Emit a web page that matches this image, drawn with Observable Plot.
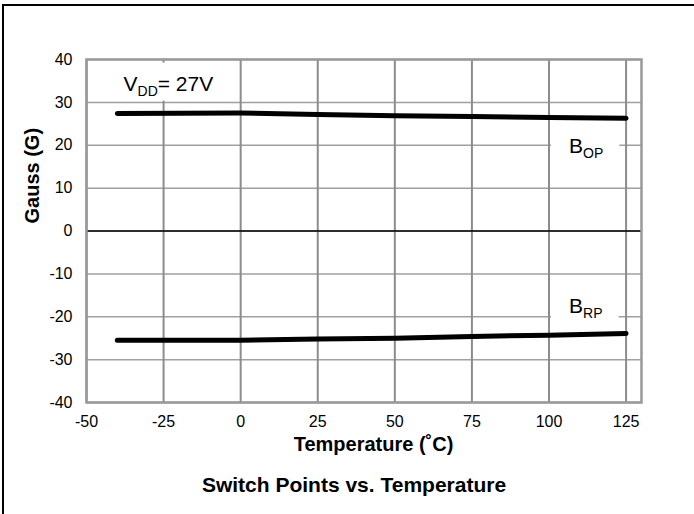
<!DOCTYPE html>
<html><head><meta charset="utf-8">
<script src="https://cdn.jsdelivr.net/npm/d3@7"></script>
<script src="https://cdn.jsdelivr.net/npm/@observablehq/plot@0.6"></script>
<style>
html,body{margin:0;padding:0;background:#fff;}
#wrap{position:relative;width:694px;height:514px;overflow:hidden;}
#chart svg{display:block;}
#border{position:absolute;left:2px;top:4px;width:720px;height:540px;border-top:2px solid #000;border-left:2px solid #000;pointer-events:none;}
</style></head><body>
<div id="wrap"><div id="chart"></div><div id="border"></div></div>
<script>
// Data
const temps = [-40, 0, 25, 50, 75, 100, 125];
const bop = [27.4, 27.5, 27.2, 26.9, 26.7, 26.5, 26.3];
const brp = [-25.5, -25.5, -25.2, -25.0, -24.6, -24.3, -23.9];
const xTicks = [-50, -25, 0, 25, 50, 75, 100, 125];
const yTicks = [-40, -30, -20, -10, 0, 10, 20, 30, 40];
const annText = ["V_DD= 27V", "B_OP", "B_RP"];
const annX = [-38, 106.5, 106.5];
const annY = [34.3, 19.8, -17.5];
const xLabel = "Temperature (˚C)";
const yLabel = "Gauss (G)";
const title = "Switch Points vs. Temperature";

const rows = [
  ...temps.map((t, i) => ({t, v: bop[i], s: "BOP"})),
  ...temps.map((t, i) => ({t, v: brp[i], s: "BRP"}))
];

const font = "'Liberation Sans', Arial, Helvetica, sans-serif";

const plot = Plot.plot({
  width: 694, height: 514,
  marginLeft: 86, marginRight: 53, marginTop: 59, marginBottom: 112,
  style: {fontFamily: font, fontSize: "16px", color: "#000", background: "#fff", overflow: "visible"},
  x: {domain: [-50, 130], ticks: xTicks, tickSize: 0, tickPadding: 13, label: null, tickFormat: d => String(d)},
  y: {domain: [-40, 40], ticks: yTicks, tickSize: 0, tickPadding: 14, label: null, tickFormat: d => String(d)},
  marks: [
    Plot.ruleY(yTicks, {stroke: "#a0a0a0", strokeWidth: 1.5}),
    Plot.ruleX(xTicks, {stroke: "#8c8c8c", strokeWidth: 2}),
    Plot.ruleY([0], {stroke: "#000", strokeWidth: 1.3}),
    Plot.frame({stroke: "#999", strokeWidth: 2.5}),
    Plot.line(rows, {x: "t", y: "v", z: "s", stroke: "#000", strokeWidth: 5, strokeLinecap: "round", strokeLinejoin: "round"}),
    Plot.text(annText, {x: (d, i) => annX[i], y: (d, i) => annY[i], text: d => d, textAnchor: "start", fontSize: 21, fill: "#000"}),
    Plot.text([xLabel], {frameAnchor: "bottom", dy: 48.6, dx: 9.5, fontWeight: "bold", fontSize: 20, fill: "#000"}),
    Plot.text([title], {frameAnchor: "bottom", dy: 89, dx: -10, fontWeight: "bold", fontSize: 21, fill: "#000"}),
    Plot.text([yLabel], {frameAnchor: "left", rotate: -90, dx: -54, dy: -7.5, fontWeight: "bold", fontSize: 20, fill: "#000"})
  ]
});

document.getElementById("chart").appendChild(plot);

// Subscripts and white label boxes for the annotation texts
plot.querySelectorAll("text").forEach(t => {
  const s = t.textContent;
  if (!annText.includes(s)) return;
  const m = s.match(/^(\w)_(\w+)(.*)$/);
  if (!m) return;
  const sel = d3.select(t);
  sel.text("");
  sel.append("tspan").text(m[1]);
  sel.append("tspan").attr("font-size", 14).attr("dy", 5).text(m[2]);
  if (m[3]) sel.append("tspan").attr("font-size", 21).attr("dy", -5).text(m[3]);
  const bb = t.getBBox();
  const r = document.createElementNS("http://www.w3.org/2000/svg", "rect");
  r.setAttribute("x", bb.x - 18);
  r.setAttribute("y", bb.y - 9);
  r.setAttribute("width", bb.width + 34);
  r.setAttribute("height", bb.height + 11);
  r.setAttribute("fill", "#fff");
  const tr = t.getAttribute("transform");
  if (tr) r.setAttribute("transform", tr);
  t.parentNode.insertBefore(r, t);
});
</script>
</body></html>
